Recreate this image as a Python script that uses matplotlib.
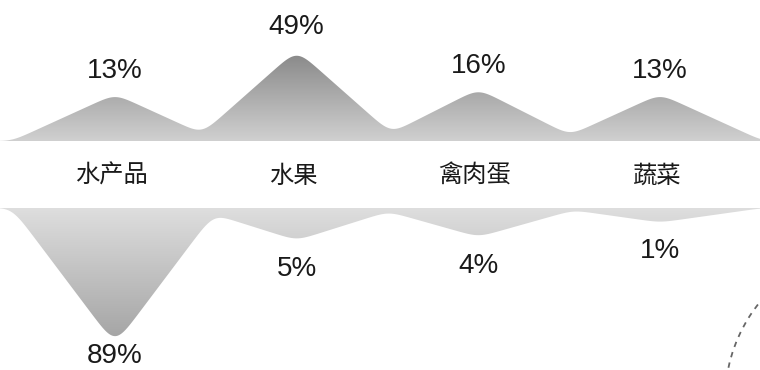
import numpy as np
import matplotlib
matplotlib.use('Agg')
import matplotlib.pyplot as plt
from matplotlib.colors import LinearSegmentedColormap
from matplotlib.transforms import blended_transform_factory
from matplotlib.patches import Arc

# ---- data ----
categories = ['水产品', '水果', '禽肉蛋', '蔬菜']
top_values = [13, 49, 16, 13]
bottom_values = [89, 5, 4, 1]
top_labels = ['13%', '49%', '16%', '13%']
bottom_labels = ['89%', '5%', '4%', '1%']

W, H = 760, 370
fig = plt.figure(figsize=(W / 100, H / 100), dpi=100)
fig.patch.set_facecolor('white')

LATIN = ['Liberation Sans', 'DejaVu Sans']
CJK = ['Noto Sans CJK SC', 'DejaVu Sans']
PT = 72.0 / fig.dpi  # points per pixel


def sqrt_fwd(y):
    return np.sqrt(np.clip(y, 0, None))


def sqrt_inv(y):
    return np.asarray(y) ** 2


xpos = np.arange(len(categories))
xlim = (-0.633, 3.55)
xs = np.linspace(xlim[0], xlim[1], 3000)


def ridge(values, half=0.567, sigma=0.045):
    """Mountain-range outline: max of tents (in sqrt space), softly rounded."""
    s = np.sqrt(np.asarray(values, dtype=float))
    tents = [si * (1 - np.abs(xs - xi) / half) for si, xi in zip(s, xpos)]
    prof = np.maximum(0, np.max(tents, axis=0))
    dx = xs[1] - xs[0]
    n = int(4 * sigma / dx)
    k = np.arange(-n, n + 1) * dx
    g = np.exp(-0.5 * (k / sigma) ** 2)
    g /= g.sum()
    prof = np.convolve(prof, g, mode='same')
    return prof ** 2


grad = np.linspace(0, 1, 256).reshape(-1, 1)

# ---- top mountains ----
top_base_px = 141
ax_t = fig.add_axes([0, 1 - top_base_px / H, 1, top_base_px / H])
ax_t.set_yscale('function', functions=(sqrt_fwd, sqrt_inv))
ax_t.axis('off')
yt = ridge(top_values)
poly_t = ax_t.fill_between(xs, 0, yt, facecolor='none', edgecolor='none')
cmap_t = LinearSegmentedColormap.from_list('t', ['#d0d0d0', '#5e5e5e'])
im_t = ax_t.imshow(grad, cmap=cmap_t, origin='lower', extent=[0, 1, 0, 1],
                   transform=ax_t.transAxes, aspect='auto', zorder=1)
im_t.set_clip_path(poly_t.get_paths()[0], transform=ax_t.transData)
ax_t.set_xlim(xlim)
ax_t.set_ylim(0, (top_base_px / 13.0) ** 2)

for xi, v, lab in zip(xpos, top_values, top_labels):
    ax_t.annotate(lab, (xi, v), xytext=(0, 23 * PT), textcoords='offset points',
                  ha='center', va='center', fontsize=20, family=LATIN,
                  color='#1a1a1a', zorder=3)

# category labels between the two ranges
tr = blended_transform_factory(ax_t.transData, fig.transFigure)
for xi, cat in zip(xpos, categories):
    ax_t.text(xi - 0.02, 1 - 176 / H, cat, transform=tr, ha='center', va='center',
              fontsize=17.5, family=CJK, color='#1a1a1a', clip_on=False)

# ---- bottom (inverted) mountains ----
bot_base_px = 208
ax_b = fig.add_axes([0, 0, 1, (H - bot_base_px) / H])
ax_b.set_yscale('function', functions=(sqrt_fwd, sqrt_inv))
ax_b.axis('off')
yb = ridge(bottom_values)
poly_b = ax_b.fill_between(xs, 0, yb, facecolor='none', edgecolor='none')
cmap_b = LinearSegmentedColormap.from_list('b', ['#979797', '#dedede'])
im_b = ax_b.imshow(grad, cmap=cmap_b, origin='lower', extent=[0, 1, 0, 1],
                   transform=ax_b.transAxes, aspect='auto', zorder=1)
im_b.set_clip_path(poly_b.get_paths()[0], transform=ax_b.transData)
ax_b.set_xlim(xlim)
ax_b.set_ylim(((H - bot_base_px) / 14.5) ** 2, 0)

max_center_px = 356  # keep labels inside the canvas (pixels from the top)
for xi, v, lab in zip(xpos, bottom_values, bottom_labels):
    trough_px_from_top = H - ax_b.transData.transform((xi, v))[1]
    label_px = min(trough_px_from_top + 29, max_center_px)
    shift = label_px - trough_px_from_top
    ax_b.annotate(lab, (xi, v), xytext=(0, -shift * PT), textcoords='offset points',
                  ha='center', va='center', fontsize=20, family=LATIN,
                  color='#1a1a1a', zorder=3, annotation_clip=False)

# ---- decorative dashed arc at lower right ----
ax_o = fig.add_axes([0, 0, 1, 1])
ax_o.set_xlim(0, W)
ax_o.set_ylim(H, 0)
ax_o.axis('off')
ax_o.patch.set_alpha(0)
ax_o.add_patch(Arc((880, 400), 310, 310, theta1=180, theta2=245,
                   color='#666666', lw=1.3, linestyle=(0, (3, 3))))

fig.savefig('out.png', dpi=100, facecolor='white')
